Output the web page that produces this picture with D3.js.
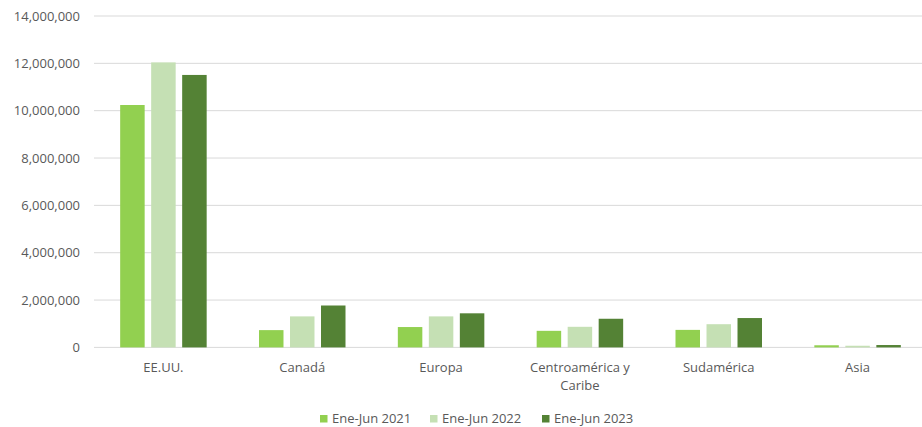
<!DOCTYPE html>
<html>
<head>
<meta charset="utf-8">
<script src="https://cdn.jsdelivr.net/npm/d3@7"></script>
<style>
  html, body { margin: 0; padding: 0; background: #fff; overflow: hidden; }
  svg text { font-family: "Open Sans", "Liberation Sans", sans-serif; }
</style>
</head>
<body>
<svg id="chart" width="922" height="427"></svg>
<script>
const categories = ["EE.UU.", "Canadá", "Europa", "Centroamérica y Caribe", "Sudamérica", "Asia"];
const seriesNames = ["Ene-Jun 2021", "Ene-Jun 2022", "Ene-Jun 2023"];
const values2021 = [10240000, 730000, 860000, 700000, 740000, 90000];
const values2022 = [12040000, 1310000, 1310000, 870000, 980000, 70000];
const values2023 = [11510000, 1770000, 1440000, 1210000, 1240000, 100000];
const yTicks = [0, 2000000, 4000000, 6000000, 8000000, 10000000, 12000000, 14000000];
const colors = ["#92D050", "#C5E0B4", "#548235"];

const seriesValues = [values2021, values2022, values2023];
const svg = d3.select("#chart");
const W = 922, H = 427;
const plotLeft = 94, plotRight = 927, plotTop = 16, plotBottom = 347.4;

const x = d3.scaleBand().domain(categories).range([plotLeft, plotRight]);
const x1 = d3.scaleBand().domain(seriesNames).range([0, x.bandwidth()]).paddingInner(0.21).paddingOuter(0.844);
const y = d3.scaleLinear().domain([0, 14000000]).range([plotBottom, plotTop]);

// gridlines
svg.append("g").selectAll("line").data(yTicks).join("line")
  .attr("x1", plotLeft).attr("x2", plotRight)
  .attr("y1", d => y(d)).attr("y2", d => y(d))
  .attr("stroke", "#d9d9d9").attr("stroke-width", 1);

// y axis labels
const yAxis = d3.axisLeft(y).tickValues(yTicks).tickFormat(d3.format(",")).tickSize(0).tickPadding(14);
const ya = svg.append("g").attr("transform", `translate(${plotLeft},0)`).call(yAxis);
ya.select(".domain").remove();
ya.selectAll("text").attr("fill", "#595959").style("font-size", "13px");

// bars
const groups = svg.append("g").selectAll("g").data(categories).join("g")
  .attr("transform", d => `translate(${x(d)},0)`);
groups.selectAll("rect").data((c, i) => seriesNames.map((s, j) => ({s, v: seriesValues[j][i], j})))
  .join("rect")
  .attr("x", d => x1(d.s))
  .attr("width", x1.bandwidth())
  .attr("y", d => y(d.v))
  .attr("height", d => y(0) - y(d.v))
  .attr("fill", d => colors[d.j]);

// x axis labels
const xl = svg.append("g");
categories.forEach(c => {
  const words = c === "Centroamérica y Caribe" ? ["Centroamérica y", "Caribe"] : [c];
  words.forEach((w, k) => {
    xl.append("text")
      .attr("x", x(c) + x.bandwidth() / 2)
      .attr("y", 372 + k * 18)
      .attr("text-anchor", "middle")
      .attr("fill", "#595959")
      .style("font-size", "13px")
      .text(w);
  });
});

// legend
const legendX = [320, 430, 542];
const lg = svg.append("g");
seriesNames.forEach((s, j) => {
  lg.append("rect").attr("x", legendX[j]).attr("y", 415).attr("width", 7.5).attr("height", 7.5).attr("fill", colors[j]);
  lg.append("text").attr("x", legendX[j] + 12).attr("y", 422.5)
    .attr("fill", "#595959").style("font-size", "13px").text(s);
});
</script>
</body>
</html>
